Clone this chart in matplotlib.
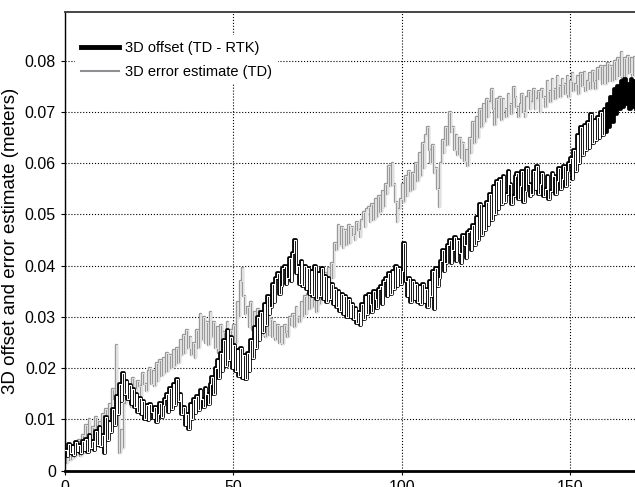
import numpy as np
import matplotlib
matplotlib.use('Agg')
import matplotlib.pyplot as plt
from matplotlib.lines import Line2D

plt.rcParams['font.family'] = ['Liberation Sans', 'DejaVu Sans']

# time axis, two samples per unit
t = np.linspace(0, 170, 341)

# 3D offset (TD - RTK), meters
offset = [
    0.0040, 0.0028, 0.0052, 0.0035, 0.0048, 0.0030, 0.0055, 0.0038, 0.0050, 0.0034,
    0.0058, 0.0040, 0.0062, 0.0036, 0.0070, 0.0045, 0.0058, 0.0040, 0.0078, 0.0050,
    0.0085, 0.0048, 0.0070, 0.0035, 0.0105, 0.0060, 0.0095, 0.0075, 0.0120, 0.0090,
    0.0145, 0.0110, 0.0170, 0.0135, 0.0190, 0.0150, 0.0175, 0.0140, 0.0168, 0.0130,
    0.0160, 0.0125, 0.0150, 0.0115, 0.0142, 0.0110, 0.0135, 0.0100, 0.0128, 0.0098,
    0.0130, 0.0115, 0.0102, 0.0125, 0.0095, 0.0110, 0.0132, 0.0105, 0.0128, 0.0140,
    0.0150, 0.0115, 0.0162, 0.0120, 0.0170, 0.0128, 0.0178, 0.0135, 0.0150, 0.0110,
    0.0125, 0.0090, 0.0110, 0.0082, 0.0130, 0.0100, 0.0140, 0.0112, 0.0145, 0.0118,
    0.0158, 0.0140, 0.0125, 0.0162, 0.0150, 0.0130, 0.0170, 0.0182, 0.0150, 0.0200,
    0.0215, 0.0180, 0.0230, 0.0195, 0.0255, 0.0205, 0.0275, 0.0215, 0.0260, 0.0200,
    0.0245, 0.0195, 0.0235, 0.0185, 0.0240, 0.0180, 0.0225, 0.0178, 0.0230, 0.0195,
    0.0255, 0.0220, 0.0280, 0.0240, 0.0300, 0.0255, 0.0310, 0.0270, 0.0325, 0.0285,
    0.0340, 0.0305, 0.0320, 0.0365, 0.0330, 0.0375, 0.0385, 0.0345, 0.0360, 0.0395,
    0.0400, 0.0365, 0.0375, 0.0415, 0.0370, 0.0425, 0.0450, 0.0385, 0.0400, 0.0365,
    0.0410, 0.0360, 0.0400, 0.0355, 0.0395, 0.0345, 0.0390, 0.0340, 0.0400, 0.0335,
    0.0385, 0.0340, 0.0395, 0.0335, 0.0380, 0.0330, 0.0375, 0.0335, 0.0365, 0.0325,
    0.0355, 0.0320, 0.0350, 0.0312, 0.0345, 0.0305, 0.0340, 0.0300, 0.0335, 0.0300,
    0.0325, 0.0295, 0.0318, 0.0288, 0.0310, 0.0285, 0.0325, 0.0295, 0.0340, 0.0305,
    0.0345, 0.0325, 0.0310, 0.0350, 0.0335, 0.0318, 0.0355, 0.0360, 0.0325, 0.0370,
    0.0375, 0.0340, 0.0385, 0.0345, 0.0390, 0.0355, 0.0400, 0.0360, 0.0395, 0.0365,
    0.0390, 0.0445, 0.0370, 0.0340, 0.0375, 0.0330, 0.0370, 0.0335, 0.0365, 0.0330,
    0.0360, 0.0325, 0.0365, 0.0330, 0.0355, 0.0320, 0.0370, 0.0340, 0.0390, 0.0315,
    0.0395, 0.0360, 0.0375, 0.0410, 0.0430, 0.0390, 0.0405, 0.0440, 0.0450, 0.0405,
    0.0430, 0.0455, 0.0410, 0.0450, 0.0425, 0.0405, 0.0460, 0.0440, 0.0415, 0.0465,
    0.0470, 0.0430, 0.0480, 0.0440, 0.0495, 0.0450, 0.0520, 0.0460, 0.0515, 0.0470,
    0.0525, 0.0480, 0.0540, 0.0490, 0.0555, 0.0500, 0.0565, 0.0510, 0.0570, 0.0520,
    0.0575, 0.0525, 0.0540, 0.0585, 0.0560, 0.0520, 0.0535, 0.0575, 0.0580, 0.0530,
    0.0555, 0.0585, 0.0525, 0.0545, 0.0590, 0.0560, 0.0535, 0.0540, 0.0585, 0.0550,
    0.0595, 0.0540, 0.0560, 0.0580, 0.0535, 0.0550, 0.0575, 0.0530, 0.0545, 0.0580,
    0.0575, 0.0540, 0.0565, 0.0590, 0.0550, 0.0570, 0.0595, 0.0555, 0.0585, 0.0600,
    0.0610, 0.0570, 0.0625, 0.0585, 0.0655, 0.0600, 0.0670, 0.0615, 0.0675, 0.0625,
    0.0680, 0.0630, 0.0695, 0.0640, 0.0685, 0.0645, 0.0690, 0.0650, 0.0700, 0.0655,
    0.0705, 0.0660, 0.0715, 0.0670, 0.0730, 0.0680, 0.0745, 0.0695, 0.0750, 0.0705,
    0.0760, 0.0710, 0.0765, 0.0715, 0.0755, 0.0705, 0.0765, 0.0710, 0.0760, 0.0705,
    0.0740,
]

# 3D error estimate (TD), meters
err_est = [
    0.0030, 0.0015, 0.0045, 0.0020, 0.0050, 0.0025, 0.0055, 0.0030, 0.0060, 0.0028,
    0.0070, 0.0035, 0.0090, 0.0045, 0.0100, 0.0040, 0.0085, 0.0050, 0.0105, 0.0055,
    0.0095, 0.0050, 0.0110, 0.0060, 0.0120, 0.0075, 0.0130, 0.0095, 0.0160, 0.0140,
    0.0245, 0.0150, 0.0035, 0.0080, 0.0045, 0.0130, 0.0175, 0.0135, 0.0165, 0.0125,
    0.0180, 0.0160, 0.0140, 0.0175, 0.0165, 0.0145, 0.0190, 0.0170, 0.0155, 0.0195,
    0.0200, 0.0170, 0.0195, 0.0165, 0.0210, 0.0175, 0.0215, 0.0185, 0.0220, 0.0190,
    0.0230, 0.0195, 0.0225, 0.0200, 0.0235, 0.0205, 0.0240, 0.0210, 0.0255, 0.0225,
    0.0265, 0.0230, 0.0275, 0.0240, 0.0260, 0.0225, 0.0250, 0.0220, 0.0275, 0.0240,
    0.0305, 0.0255, 0.0300, 0.0250, 0.0290, 0.0245, 0.0310, 0.0260, 0.0290, 0.0240,
    0.0280, 0.0230, 0.0285, 0.0220, 0.0270, 0.0235, 0.0290, 0.0225, 0.0275, 0.0240,
    0.0285, 0.0250, 0.0330, 0.0300, 0.0370, 0.0395, 0.0340, 0.0305, 0.0320, 0.0280,
    0.0330, 0.0275, 0.0310, 0.0265, 0.0315, 0.0270, 0.0305, 0.0265, 0.0300, 0.0260,
    0.0305, 0.0265, 0.0295, 0.0260, 0.0290, 0.0255, 0.0285, 0.0250, 0.0280, 0.0248,
    0.0285, 0.0270, 0.0260, 0.0300, 0.0285, 0.0305, 0.0280, 0.0320, 0.0300, 0.0290,
    0.0330, 0.0300, 0.0340, 0.0305, 0.0345, 0.0315, 0.0350, 0.0320, 0.0345, 0.0310,
    0.0355, 0.0325, 0.0370, 0.0340, 0.0385, 0.0355, 0.0395, 0.0360, 0.0405, 0.0375,
    0.0445, 0.0430, 0.0480, 0.0440, 0.0475, 0.0435, 0.0470, 0.0440, 0.0480, 0.0445,
    0.0475, 0.0460, 0.0450, 0.0485, 0.0470, 0.0455, 0.0490, 0.0505, 0.0475, 0.0510,
    0.0515, 0.0485, 0.0520, 0.0490, 0.0530, 0.0495, 0.0535, 0.0505, 0.0545, 0.0515,
    0.0560, 0.0540, 0.0595, 0.0555, 0.0600, 0.0560, 0.0525, 0.0485, 0.0510, 0.0530,
    0.0560, 0.0525, 0.0575, 0.0535, 0.0585, 0.0545, 0.0580, 0.0550, 0.0600, 0.0565,
    0.0620, 0.0575, 0.0640, 0.0590, 0.0655, 0.0670, 0.0625, 0.0600, 0.0635, 0.0580,
    0.0590, 0.0550, 0.0515, 0.0600, 0.0645, 0.0620, 0.0670, 0.0635, 0.0700, 0.0660,
    0.0670, 0.0625, 0.0655, 0.0615, 0.0650, 0.0610, 0.0640, 0.0605, 0.0625, 0.0594,
    0.0650, 0.0620, 0.0680, 0.0640, 0.0690, 0.0650, 0.0705, 0.0670, 0.0715, 0.0680,
    0.0725, 0.0690, 0.0720, 0.0745, 0.0705, 0.0675, 0.0725, 0.0690, 0.0730, 0.0685,
    0.0725, 0.0705, 0.0690, 0.0735, 0.0715, 0.0695, 0.0748, 0.0730, 0.0710, 0.0690,
    0.0715, 0.0735, 0.0700, 0.0690, 0.0730, 0.0740, 0.0705, 0.0720, 0.0745, 0.0705,
    0.0725, 0.0740, 0.0700, 0.0745, 0.0730, 0.0710, 0.0760, 0.0740, 0.0720, 0.0765,
    0.0745, 0.0725, 0.0770, 0.0750, 0.0730, 0.0765, 0.0755, 0.0735, 0.0770, 0.0730,
    0.0760, 0.0775, 0.0740, 0.0755, 0.0770, 0.0735, 0.0775, 0.0750, 0.0778, 0.0740,
    0.0760, 0.0775, 0.0745, 0.0780, 0.0760, 0.0745, 0.0785, 0.0765, 0.0790, 0.0755,
    0.0790, 0.0755, 0.0795, 0.0760, 0.0790, 0.0760, 0.0800, 0.0765, 0.0805, 0.0770,
    0.0816, 0.0765, 0.0805, 0.0770, 0.0810, 0.0775, 0.0805, 0.0770, 0.0808, 0.0775,
    0.0790,
]

fig = plt.figure(figsize=(6.35, 4.87), dpi=100)
ax = fig.add_axes([0.1024, 0.0335, 0.9014, 0.9419])

gray = '#8e8e94'
# error estimate: gray outline with light core
ax.plot(t, err_est, color='#999999', lw=1.7, drawstyle='steps-post', zorder=2)
ax.plot(t, err_est, color='white', lw=0.5, drawstyle='steps-post', zorder=2.1)

# offset: black outline with white core, solid at the end
ax.plot(t, offset, color='black', lw=2.7, drawstyle='steps-post', zorder=3)
cut = 321
ax.plot(t[:cut], offset[:cut], color='white', lw=0.8, drawstyle='steps-post', zorder=3.1)

ax.set_xlim(0, 170)
ax.set_ylim(0, 0.0895)
ax.set_xticks([0, 50, 100, 150])
ax.set_yticks(np.arange(0, 0.081, 0.01))
ax.set_yticklabels(['0', '0.01', '0.02', '0.03', '0.04', '0.05', '0.06', '0.07', '0.08'])
ax.tick_params(labelsize=11.5, direction='out', length=3, width=0.8)
ax.grid(True, color='black', linestyle=':', linewidth=0.8)
ax.set_axisbelow(True)

ax.spines['right'].set_visible(False)
ax.spines['top'].set_color('#444444')
ax.spines['top'].set_linewidth(1.4)
ax.spines['bottom'].set_linewidth(2.0)
ax.spines['left'].set_linewidth(1.0)

ax.set_ylabel('3D offset and error estimate (meters)', fontsize=13.5, labelpad=4)

handles = [Line2D([], [], color='black', lw=3.5),
           Line2D([], [], color=gray, lw=1.5)]
leg = ax.legend(handles, ['3D offset (TD - RTK)', '3D error estimate (TD)'],
                loc='upper left', bbox_to_anchor=(0.005, 0.965), fontsize=10.5,
                handlelength=2.6, handletextpad=0.45, labelspacing=0.65,
                frameon=True, facecolor='white', edgecolor='none', framealpha=1,
                fancybox=False, borderpad=0.4)
leg.set_zorder(5)

fig.savefig('out.png', dpi=100)
